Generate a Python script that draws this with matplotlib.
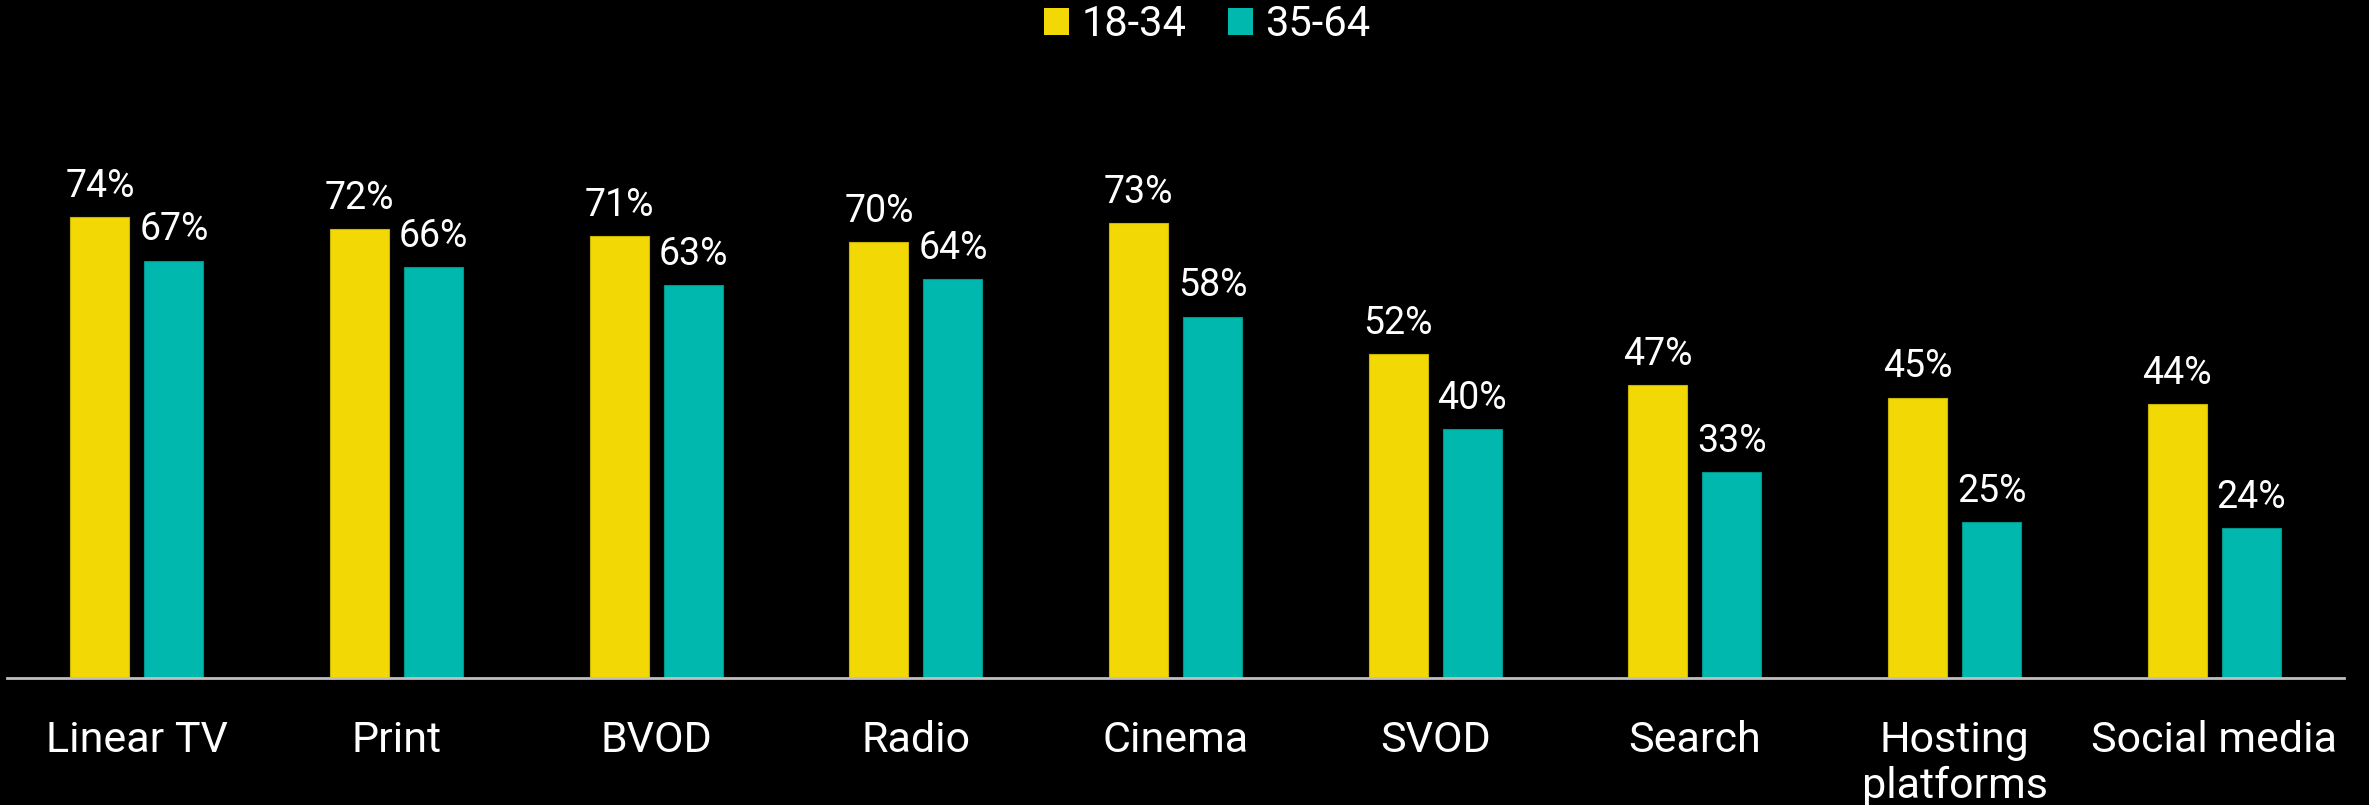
import matplotlib
matplotlib.use("Agg")
import matplotlib.pyplot as plt
import numpy as np
from matplotlib.patches import Patch

plt.rcParams['font.family'] = ['Roboto', 'DejaVu Sans']

categories = ['Linear TV', 'Print', 'BVOD', 'Radio', 'Cinema', 'SVOD',
              'Search', 'Hosting\nplatforms', 'Social media']
age_18_34 = [74, 72, 71, 70, 73, 52, 47, 45, 44]
age_35_64 = [67, 66, 63, 64, 58, 40, 33, 25, 24]
series_names = ['18-34', '35-64']

yellow = '#F2D906'
teal = '#00B8AD'

fig = plt.figure(figsize=(23.69, 8.05), dpi=100, facecolor='black')
ax = fig.add_axes([0.003, 0.1578, 0.9865, 0.7739])
ax.set_facecolor('black')

x = np.arange(len(categories))
w = 0.227
off = 0.1425
b1 = ax.bar(x - off, age_18_34, w, color=yellow, edgecolor='#C9B400', linewidth=0.8)
b2 = ax.bar(x + off, age_35_64, w, color=teal, edgecolor='#00948B', linewidth=0.8)

# value labels above each bar
for bars, vals in ((b1, age_18_34), (b2, age_35_64)):
    for rect, v in zip(bars, vals):
        ax.annotate(f'{v}%', (rect.get_x() + rect.get_width() / 2, v),
                    xytext=(0, 14.5), textcoords='offset points',
                    ha='center', va='baseline', color='white', fontsize=27)

ax.set_xlim(-0.5, 8.5)
ax.set_ylim(0, 100)
for s in ('top', 'right', 'left'):
    ax.spines[s].set_visible(False)
ax.spines['bottom'].set_color('#BFBFBF')
ax.spines['bottom'].set_linewidth(2)
ax.set_yticks([])
ax.set_xticks(x)
ax.set_xticklabels(categories, color='white', fontsize=31, linespacing=1.15)
ax.tick_params(axis='x', length=0, pad=30)

handles = [Patch(facecolor=yellow), Patch(facecolor=teal)]
fig.legend(handles, series_names, loc='upper center',
           bbox_to_anchor=(1207 / 2369, 1.0), ncol=2, frameon=False,
           fontsize=30, labelcolor='white', handlelength=0.6, handleheight=0.6,
           handletextpad=0.3, columnspacing=1.0, borderaxespad=0, borderpad=0.1)

fig.savefig('out.png', dpi=100, facecolor='black')
